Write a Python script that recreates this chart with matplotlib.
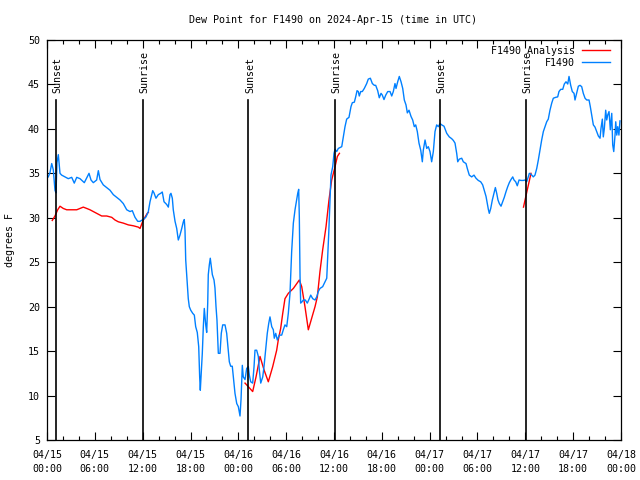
import numpy as np
import matplotlib
matplotlib.use("Agg")
import matplotlib.pyplot as plt
from datetime import datetime, timedelta

# ---- data (hours after 2024-04-15 00:00 UTC, degrees F) ----
START = datetime(2024, 4, 15)

obs_hours = [
    0.16, 0.38, 0.59, 0.79, 1.00, 1.13, 1.25, 1.42, 1.63, 1.84, 2.26, 2.67, 3.10, 3.42, 3.73,
    4.14, 4.68, 5.27, 5.52, 5.81, 6.23, 6.44, 6.65, 7.06, 7.49, 7.90, 8.32, 8.74, 9.16, 9.57,
    10.00, 10.41, 10.70, 11.04, 11.38, 11.67, 11.95, 12.21, 12.42, 12.71, 12.92, 13.26, 13.42,
    13.67, 13.96, 14.26, 14.46, 14.68, 15.01, 15.22, 15.43, 15.55, 15.72, 15.84, 16.06, 16.27,
    16.47, 16.68, 16.90, 17.10, 17.22, 17.31, 17.40, 17.60, 17.72, 17.85, 18.03, 18.28, 18.48,
    18.65, 18.85, 19.03, 19.15, 19.23, 19.32, 19.48, 19.61, 19.73, 19.91, 20.03, 20.16, 20.23,
    20.36, 20.48, 20.61, 20.74, 20.95, 21.07, 21.20, 21.32, 21.49, 21.70, 21.86, 22.04, 22.33,
    22.54, 22.74, 22.87, 23.04, 23.24, 23.46, 23.58, 23.80, 24.00, 24.21, 24.34, 24.50, 24.62,
    24.84, 25.05, 25.25, 25.38, 25.55, 25.80, 25.97, 26.09, 26.30, 26.51, 26.63, 26.81, 27.06,
    27.22, 27.47, 27.63, 27.81, 27.97, 28.19, 28.39, 28.51, 28.69, 28.89, 29.14, 29.44, 29.64,
    29.85, 30.07, 30.27, 30.48, 30.69, 30.90, 31.11, 31.32, 31.45, 31.57, 31.65, 31.74, 31.82,
    31.99, 32.15, 32.40, 32.65, 32.90, 33.08, 33.33, 33.62, 33.83, 34.03, 34.24, 34.58, 34.87,
    35.09, 35.21, 35.34, 35.50, 35.62, 35.84, 36.00, 36.13, 36.34, 36.54, 36.97, 37.17, 37.38,
    37.59, 37.88, 38.13, 38.30, 38.55, 38.72, 38.89, 39.05, 39.17, 39.35, 39.55, 39.80, 40.10,
    40.30, 40.56, 40.81, 41.06, 41.23, 41.48, 41.68, 41.90, 42.06, 42.27, 42.49, 42.74, 43.03,
    43.24, 43.44, 43.65, 43.78, 43.99, 44.19, 44.41, 44.62, 44.82, 45.03, 45.20, 45.41, 45.66,
    45.87, 46.07, 46.25, 46.45, 46.66, 46.88, 47.08, 47.20, 47.42, 47.63, 47.83, 48.04, 48.25,
    48.46, 48.67, 48.88, 49.08, 49.30, 49.51, 49.80, 50.14, 50.46, 50.76, 50.97, 51.18, 51.39,
    51.52, 51.72, 52.02, 52.22, 52.56, 52.72, 52.97, 53.27, 53.56, 53.81, 54.10, 54.40, 54.65,
    54.85, 55.07, 55.23, 55.36, 55.48, 55.66, 55.86, 56.07, 56.24, 56.41, 56.57, 56.74, 56.95,
    57.16, 57.36, 57.58, 57.79, 57.99, 58.20, 58.42, 58.58, 58.79, 58.99, 59.21, 59.46, 59.75,
    59.96, 60.17, 60.37, 60.50, 60.71, 61.00, 61.21, 61.43, 61.63, 61.84, 62.05, 62.26, 62.47,
    62.68, 62.88, 63.09, 63.31, 63.51, 63.81, 64.06, 64.22, 64.44, 64.69, 64.89, 65.10, 65.32,
    65.48, 65.69, 65.89, 66.11, 66.23, 66.44, 66.65, 66.86, 67.07, 67.27, 67.49, 67.70, 67.99,
    68.15, 68.33, 68.53, 68.74, 68.95, 69.16, 69.37, 69.49, 69.66, 69.78, 69.91, 70.08, 70.21,
    70.33, 70.50, 70.66, 70.84, 70.96, 71.09, 71.25, 71.34, 71.47, 71.59, 71.74, 71.87,
]
obs_dewpt = [
    34.6, 35.1, 36.1, 35.4, 33.1, 32.8, 36.2, 37.1, 35.0, 34.8, 34.6, 34.4, 34.55, 33.9, 34.55,
    34.4, 33.95, 35.0, 34.25, 33.95, 34.25, 35.3, 34.3, 33.7, 33.4, 33.1, 32.6, 32.3, 32.0, 31.6,
    30.9, 30.7, 30.8, 30.05, 29.6, 29.6, 29.75, 29.9, 30.1, 30.7, 31.8, 33.05, 32.8,
    32.2, 32.6, 32.75, 32.9, 31.8, 31.5, 31.2, 32.6, 32.75, 32.2, 30.9, 29.6, 28.8,
    27.5, 28.05, 28.8, 29.55, 29.8, 28.6, 25.25, 22.6, 20.9, 20.0, 19.6, 19.25, 19.05,
    17.75, 17.1, 15.5, 12.1, 10.6, 12.1, 14.75, 17.75, 19.8, 17.95, 17.1, 20.4, 23.6,
    24.7, 25.45, 24.5, 23.6, 23.0, 22.1, 20.0, 18.5, 14.75, 14.75, 17.0, 17.95, 17.95,
    17.0, 15.1, 13.8, 13.3, 13.3, 11.4, 10.25, 9.1, 8.75, 7.7, 9.6, 13.4, 12.1,
    11.8, 13.05, 13.25, 12.3, 11.55, 11.4, 13.25, 15.1, 15.1, 14.4, 12.9, 11.4, 12.1,
    13.25, 15.5, 17.0, 18.1, 18.85, 17.75, 17.4, 16.45, 17.0, 16.25, 16.8, 16.8, 17.4,
    17.95, 17.75, 19.25, 21.5, 26.2, 29.4, 30.9, 32.0, 32.75, 33.2, 30.1, 23.4, 20.4,
    20.55, 20.75, 20.75, 20.4, 20.9, 21.3, 20.9, 20.75, 21.1, 21.7, 22.05, 22.25, 22.8,
    23.2, 25.6, 28.25, 32.0, 34.8, 35.75, 37.25, 37.7, 37.45, 37.8, 38.0, 39.1, 40.25,
    41.1, 41.3, 42.5, 42.95, 43.0, 43.6, 44.3, 44.2, 43.7, 44.2, 44.2, 44.55, 45.1,
    45.6, 45.7, 45.1, 44.9, 44.9, 44.3, 43.5, 44.0, 43.8, 43.3, 43.8, 44.2, 44.2,
    43.7, 44.2, 45.1, 44.55, 45.3, 45.9, 45.3, 44.55, 43.25, 42.7, 41.8, 42.1, 41.4,
    41.0, 40.25, 40.45, 39.7, 38.4, 37.6, 36.3, 37.6, 38.75, 37.8, 38.0, 37.45, 36.3,
    37.45, 39.7, 40.45, 40.25, 40.6, 40.45, 40.3, 39.5, 39.1, 38.9, 38.7, 38.4, 37.25,
    36.3, 36.6, 36.7, 36.3, 36.1, 35.55, 34.8, 34.6, 34.8, 34.45, 34.2, 34.05, 33.7,
    33.1, 32.4, 31.6, 30.95, 30.5, 31.05, 32.0, 32.75, 33.4, 32.75, 32.0, 31.6, 31.3,
    31.8, 32.3, 32.95, 33.5, 33.95, 34.3, 34.6, 34.25, 34.05, 33.6, 34.25, 34.2, 34.2,
    34.25, 34.05, 34.6, 35.0, 34.9, 34.6, 34.8, 35.55, 36.5, 37.6, 38.75, 39.7, 40.25,
    40.8, 41.1, 42.1, 42.9, 43.45, 43.55, 43.6, 44.2, 44.45, 44.45, 45.05, 45.3, 45.05,
    45.9, 44.9, 44.2, 44.0, 43.25, 44.0, 44.8, 44.9, 44.75, 44.0, 43.45, 43.25, 43.25,
    42.5, 41.55, 40.45, 40.2, 39.7, 39.2, 38.95, 40.05, 41.1, 39.1, 40.05, 42.1, 41.0,
    41.55, 41.95, 39.9, 41.75, 38.2, 37.45, 39.3, 40.8, 39.3, 40.25, 39.3, 40.9,
]

# analysis: NaN marks gaps with no analysis
ana_hours = [
    0.66, 1.00, 1.34, 1.63, 2.04, 2.47, 3.10, 3.73, 4.14, 4.55, 4.98, 5.39, 5.81, 6.44, 6.86,
    7.49, 8.12, 8.53, 8.94, 9.57, 10.20, 10.83, 11.45, 11.67, 11.88, 12.08, 12.58, 12.71,
    np.nan,
    24.84, 25.25, 25.80, 26.22, 26.72, 27.22, 27.76, 28.31, 28.81, 29.01, 29.31, 29.57, 29.85,
    30.27, 30.90, 31.65, 31.95, 32.36, 32.78, 33.20, 33.62, 33.91, 34.24, 34.58, 35.00, 35.37,
    35.71, 36.13, 36.42, 36.68,
    np.nan,
    59.77, 60.21, 60.71,
]
ana_dewpt = [
    29.7, 30.2, 30.9, 31.3, 31.05, 30.9, 30.9, 30.9, 31.05, 31.2, 31.05, 30.9, 30.7, 30.4, 30.2,
    30.2, 30.05, 29.75, 29.55, 29.4, 29.2, 29.1, 28.95, 28.8, 29.3, 29.75, 30.5, 30.6,
    np.nan,
    11.4, 11.0, 10.45, 12.1, 14.4, 12.9, 11.55, 13.25, 15.1, 16.25, 17.55, 19.25, 20.9,
    21.5, 22.05, 23.0, 22.25, 20.0, 17.4, 18.7, 20.0, 21.1, 23.95, 26.4, 29.0, 32.0,
    34.25, 35.75, 36.9, 37.25,
    np.nan,
    31.2, 33.0, 35.0,
]

sun_events = [(1.13, "Sunset"), (12.05, "Sunrise"), (25.25, "Sunset"),
              (36.13, "Sunrise"), (49.30, "Sunset"), (60.10, "Sunrise")]

x_ticks = list(range(0, 73, 6))
x_ticklabels = [(START + timedelta(hours=h)).strftime("%m/%d\n%H:%M") for h in x_ticks]
y_ticks = list(range(5, 51, 5))

FONT = "DejaVu Sans Mono"
FS = 7.2

plt.rcParams["font.family"] = FONT
plt.rcParams["font.size"] = FS

fig = plt.figure(figsize=(6.4, 4.8), dpi=100)
ax = fig.add_axes([47 / 640, 40 / 480, 574 / 640, 400 / 480])

ax.plot(ana_hours, ana_dewpt, color="#ff0000", lw=1.0, label="F1490 Analysis")
ax.plot(obs_hours, obs_dewpt, color="#0080ff", lw=1.0, label="F1490")

for h, name in sun_events:
    ax.plot([h, h], [0, 0.85], color="black", lw=1.2, transform=ax.get_xaxis_transform())
    ax.text(h + 0.2, 0.868, name, rotation=90, ha="center", va="bottom",
            transform=ax.get_xaxis_transform(), fontsize=FS)

ax.set_xlim(0, 72)
ax.set_ylim(5, 50)
ax.set_xticks(x_ticks)
ax.set_xticklabels(x_ticklabels, linespacing=1.5)
ax.set_xticks(list(range(0, 73, 2)), minor=True)
ax.set_yticks(y_ticks)
ax.tick_params(which="both", direction="in", top=True, right=True, labelsize=FS)
ax.tick_params(which="major", length=5.5, width=0.8)
ax.tick_params(which="minor", length=2.8, width=0.8)
ax.tick_params(axis="x", pad=7)
ax.tick_params(axis="y", pad=5)
for s in ax.spines.values():
    s.set_linewidth(0.9)

ax.set_ylabel("degrees F", fontsize=FS)
ax.yaxis.set_label_coords(-(47 - 15) / 574, 0.5)
fig.text(333 / 640, 1 - 20 / 480, "Dew Point for F1490 on 2024-Apr-15 (time in UTC)",
         ha="center", va="center", fontsize=FS)

ax.legend(loc="upper right", bbox_to_anchor=(0.991, 1.0), frameon=False, markerfirst=False,
          handlelength=2.8, handletextpad=0.7, labelspacing=0.2, borderpad=0.3,
          borderaxespad=0.3, fontsize=FS)

fig.savefig("out.png", dpi=100)
